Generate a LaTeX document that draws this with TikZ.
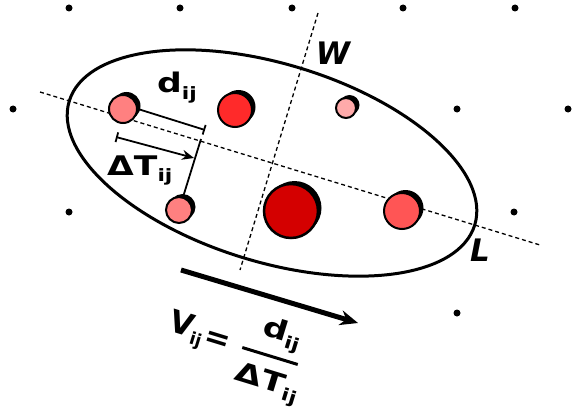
\documentclass[tikz,border=0pt]{standalone}
\usepackage{fontspec}
\usepackage{graphicx}
\setmainfont{DejaVu Sans}
\usetikzlibrary{arrows.meta,shadows}
\newcommand\ijsub{\raisebox{-6pt}{\fontsize{17}{17}\selectfont ij}}
\newcommand\widen[1]{\scalebox{1.28}[1]{#1}}
\begin{document}
\begin{tikzpicture}[x=1pt,y=-1pt,
  axisline/.style={line width=1.3pt, dash pattern=on 4pt off 3pt},
  ball/.style={circle, draw=black, line width=2pt, inner sep=0pt,
    drop shadow={shadow xshift=3.5pt, shadow yshift=3pt, fill=black, opacity=1}},
  latdot/.style={circle, fill=black, inner sep=0pt, minimum size=7pt},
  lab/.style={font=\fontsize{27}{27}\selectfont\bfseries, inner sep=0pt},
  eqlab/.style={font=\fontsize{31}{31}\selectfont\bfseries, inner sep=0pt},
  axlab/.style={font=\fontsize{31}{31}\selectfont\bfseries\itshape, inner sep=0pt},
  meas/.style={line width=1.8pt}
]
\useasboundingbox (0,0) rectangle (572,409);

% lattice dots
\foreach \x/\y [count=\k] in {69/8,180/8,292/8,403/8,515/8,13/109,457/109,568/109,69/212,514/212,457/313}
  \node[latdot] (p\k) at (\x,\y) {};

% axes
\coordinate (L1) at (40,92);
\coordinate (L2) at (540,245);
\coordinate (W1) at (318,13);
\coordinate (W2) at (240,270);
\draw[axisline] (L1) -- (L2);
\draw[axisline] (W1) -- (W2);

% ellipse
\draw[line width=3pt, rotate around={-17:(272,163)}] (272,163) ellipse [x radius=212, y radius=99];

% measurement points
\coordinate (F) at (205,130);
\coordinate (G) at (201,139);
\coordinate (T1) at (116,137);
\coordinate (T2) at (194,158);

% balls
\node[ball, fill={rgb,255:red,255;green,128;blue,128}, minimum size=28pt] (i) at (123,109) {};
\node[ball, fill={rgb,255:red,255;green,128;blue,128}, minimum size=26pt] (j) at (179,210) {};
\node[ball, fill={rgb,255:red,255;green,42;blue,42}, minimum size=34pt] (r) at (235,110) {};
\node[ball, fill={rgb,255:red,212;green,0;blue,0}, minimum size=54pt, line width=2.5pt] (big) at (291,211) {};
\node[ball, fill={rgb,255:red,255;green,85;blue,85}, minimum size=36pt] (s) at (402,211) {};
\node[ball, fill={rgb,255:red,255;green,170;blue,170}, minimum size=20pt] (sm) at (346,108) {};

\draw[meas, -{Bar[width=10pt]}] (i.east) -- (F);
\draw[meas] (G) -- (j);
\draw[meas, {Bar[width=10pt]}-{Stealth[length=12pt,width=10pt]}] (T1) -- (T2);

% labels
\node[lab, anchor=base west] (dlab) at (157,93) {\widen{d\ijsub}};
\node[lab, anchor=base west] (tlab) at (107,175) {\widen{ΔT\ijsub}};
\node[axlab] (Wlab) at (333,53) {W};
\node[axlab] (Llab) at (480,250) {L};

% velocity arrow
\coordinate (A1) at (181,270);
\coordinate (A2) at (358,323);
\draw[line width=5pt, -{Stealth[length=18pt,width=15pt]}] (A1) -- (A2);

% equation (rotated frame centred on the fraction bar)
\begin{scope}[shift={(270,356)}, rotate=-17]
  \coordinate (Vpos) at (-106,6);
  \coordinate (Epos) at (-55,1);
  \coordinate (Npos) at (-15,-18);
  \coordinate (Dpos) at (-28,33);
  \coordinate (B1) at (-29,0);
  \coordinate (B2) at (29,0);
\end{scope}
\node[eqlab, anchor=base west, rotate=-17] (V) at (Vpos) {V\ijsub};
\node[eqlab, rotate=-17] (eq) at (Epos) {=};
\node[lab, anchor=base west, rotate=-17] (num) at (Npos) {\widen{d\ijsub}};
\draw[line width=3pt] (B1) -- (B2);
\node[lab, anchor=base west, rotate=-17] (den) at (Dpos) {\widen{ΔT\ijsub}};
\end{tikzpicture}
\end{document}
